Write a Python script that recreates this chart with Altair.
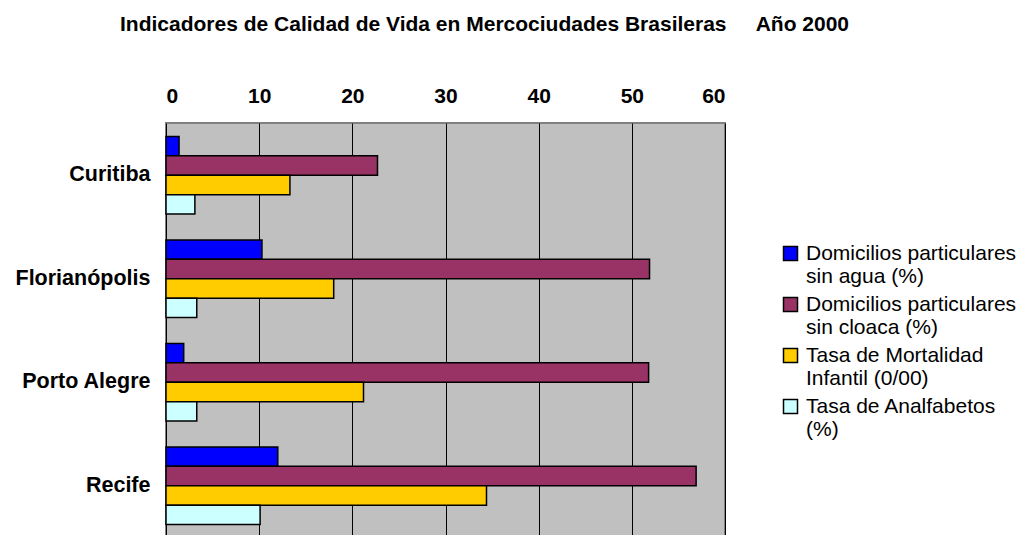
import altair as alt
import pandas as pd

cities = ["Curitiba", "Florianópolis", "Porto Alegre", "Recife"]
series = [
    "Domicilios particulares|sin agua (%)",
    "Domicilios particulares|sin cloaca (%)",
    "Tasa de Mortalidad|Infantil (0/00)",
    "Tasa de Analfabetos|(%)",
]
sin_agua = [1.4, 10.3, 1.9, 12.0]
sin_cloaca = [22.7, 51.9, 51.8, 56.9]
mortalidad = [13.3, 18.0, 21.2, 34.4]
analfabetos = [3.1, 3.3, 3.3, 10.1]
colors = ["#0000FF", "#993366", "#FFCC00", "#CCFFFF"]
x_ticks = [0, 10, 20, 30, 40, 50, 60]

rows = []
for s, vals in zip(series, [sin_agua, sin_cloaca, mortalidad, analfabetos]):
    for c, v in zip(cities, vals):
        rows.append({"ciudad": c, "serie": s, "valor": v})
df = pd.DataFrame(rows)

FONT = "Liberation Sans, Arial, sans-serif"
NB = "\u00a0"
title_text = "Indicadores de Calidad de Vida en Mercociudades Brasileras" + NB * 5 + "Año 2000"

chart = (
    alt.Chart(df)
    .mark_bar(stroke="black", strokeWidth=1.5)
    .encode(
        x=alt.X(
            "valor:Q",
            scale=alt.Scale(domain=[0, 60], nice=False),
            axis=alt.Axis(
                orient="top",
                values=x_ticks,
                title=None,
                grid=True,
                gridColor="#000000",
                gridWidth=1,
                gridOpacity=1,
                ticks=False,
                tickSize=0,
                domain=False,
                labelFont=FONT,
                labelFontSize=21,
                labelFontWeight="bold",
                labelColor="#000000",
                labelPadding=17,
            ),
        ),
        y=alt.Y(
            "ciudad:N",
            sort=cities,
            scale=alt.Scale(paddingInner=0.25, paddingOuter=0.13),
            axis=alt.Axis(
                title=None,
                ticks=False,
                tickSize=0,
                domain=False,
                grid=False,
                labelFont=FONT,
                labelFontSize=21.5,
                labelFontWeight="bold",
                labelColor="#000000",
                labelPadding=16,
            ),
        ),
        yOffset=alt.YOffset("serie:N", sort=series, scale=alt.Scale(paddingInner=0, paddingOuter=0)),
        color=alt.Color(
            "serie:N",
            sort=series,
            scale=alt.Scale(domain=series, range=colors),
            legend=alt.Legend(
                title=None,
                orient="none",
                legendX=614,
                legendY=120,
                symbolType="square",
                symbolSize=196,
                symbolStrokeColor="black",
                symbolStrokeWidth=1.5,
                symbolOpacity=1,
                labelFont=FONT,
                labelFontSize=21,
                labelColor="#000000",
                labelOffset=5,
                labelLimit=400,
                labelBaseline="middle",
                labelExpr="split(datum.label, '|')",
                rowPadding=6,
            ),
        ),
    )
    .properties(
        width=559,
        height=415,
        title=alt.TitleParams(
            text=title_text,
            anchor="start",
            frame="group",
            dx=-46,
            offset=50,
            font=FONT,
            fontSize=21,
            fontWeight="bold",
            color="#000000",
        ),
        autosize=alt.AutoSizeParams(type="none"),
        padding={"left": 158, "top": 115, "right": 295, "bottom": 0},
        background="white",
    )
    .configure_view(fill="#C0C0C0", stroke="#808080", strokeWidth=2)
)

chart.save("out.html", embed_options={"renderer": "svg", "actions": False})
